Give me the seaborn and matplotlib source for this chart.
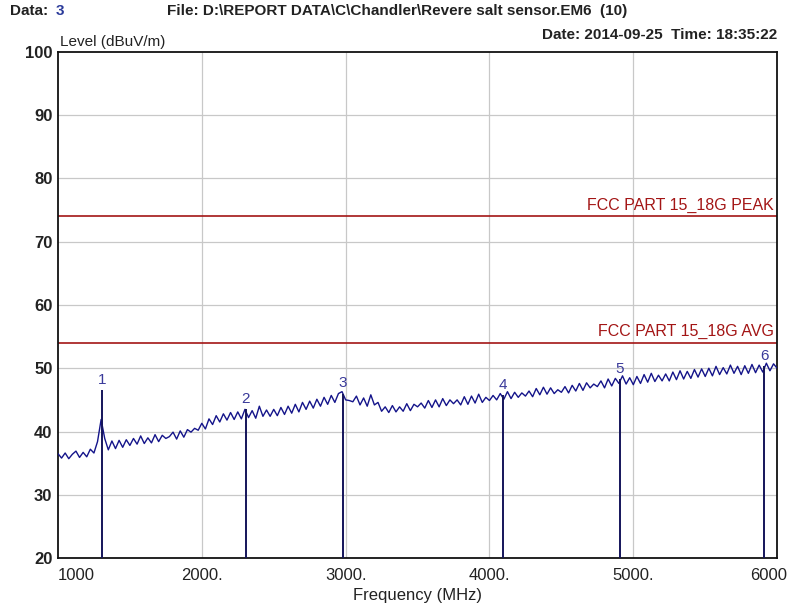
import numpy as np
import pandas as pd
import matplotlib
matplotlib.use("Agg")
import matplotlib.pyplot as plt
from matplotlib.transforms import ScaledTranslation
import seaborn as sns

# sweep 1000 - 6000 MHz, levels (dBuV/m)
freq_start, freq_stop = 1000, 6000
levels = [
    36.5, 35.8, 36.6, 35.7, 36.4, 36.9, 35.9, 36.7, 36.0, 37.2,
    36.6, 38.4, 41.9, 38.9, 37.1, 38.5, 37.3, 38.6, 37.5, 38.7,
    37.8, 38.9, 38.0, 39.3, 38.1, 39.0, 38.2, 39.5, 38.4, 39.4,
    38.9, 39.2, 39.9, 38.8, 40.1, 39.1, 40.3, 39.9, 40.5, 40.2,
    41.3, 40.4, 42.0, 41.1, 42.5, 41.5, 42.8, 41.8, 43.0, 41.9,
    43.1, 42.0, 43.5, 42.2, 43.3, 42.1, 44.0, 42.4, 43.4, 42.4,
    43.5, 42.5, 43.8, 42.7, 44.0, 42.9, 44.3, 43.1, 44.6, 43.5,
    44.8, 43.7, 45.1, 44.0, 45.4, 44.3, 45.7, 44.6, 46.0, 46.3,
    45.0, 44.9, 44.7, 45.6, 44.2, 45.3, 44.0, 45.8, 44.2, 44.6,
    43.2, 43.9, 43.0, 44.1, 43.1, 43.9, 43.2, 44.4, 43.3, 44.3,
    43.9, 44.5, 43.7, 44.9, 43.8, 45.0, 43.9, 45.2, 44.1, 45.0,
    44.4, 45.0, 44.2, 45.5, 44.3, 45.6, 44.5, 45.9, 44.6, 45.4,
    44.9, 45.7, 45.0, 46.0, 45.1, 46.3, 45.2, 46.2, 45.4, 46.1,
    45.6, 46.4, 45.5, 46.8, 45.8, 47.0, 45.9, 46.9, 46.0, 46.6,
    46.2, 47.1, 46.1, 47.3, 46.4, 47.6, 46.5, 47.7, 46.9, 47.5,
    47.1, 48.0, 46.9, 48.3, 47.2, 48.4, 47.6, 48.8, 47.5, 48.5,
    47.4, 48.7, 47.6, 49.0, 47.8, 49.2, 47.9, 48.9, 48.0, 49.1,
    48.0, 49.4, 48.2, 49.6, 48.3, 49.5, 48.4, 49.8, 48.6, 49.9,
    48.7, 50.0, 48.8, 50.3, 49.0, 50.1, 49.1, 50.5, 49.2, 50.3,
    49.0, 50.4, 49.2, 50.6, 49.3, 50.5, 49.4, 50.8, 49.6, 50.7,
    50.0,
]
freqs = np.linspace(freq_start, freq_stop, len(levels))

# markers
marker_ids = ["1", "2", "3", "4", "5", "6"]
marker_freqs = [1306, 2307, 2982, 4095, 4908, 5910]
marker_levels = [46.5, 43.5, 46.0, 45.8, 48.3, 50.3]

# limit lines
limit_names = ["FCC PART 15_18G PEAK", "FCC PART 15_18G AVG"]
limit_values = [74, 54]

x_ticks = [1000, 2000, 3000, 4000, 5000, 6000]
x_ticklabels = ["1000", "2000.", "3000.", "4000.", "5000.", "6000"]
y_ticks = [20, 30, 40, 50, 60, 70, 80, 90, 100]

df = pd.DataFrame({"freq": freqs, "level": levels})

sns.set_style("white")
plt.rcParams["font.family"] = ["Liberation Sans", "DejaVu Sans"]

fig = plt.figure(figsize=(7.93, 6.06), dpi=100)
ax = fig.add_axes([0.0731, 0.0792, 0.9069, 0.835])

trace_col = "#14148a"
limit_col = "#a31515"
text_col = "#222222"

# grid
for xv in x_ticks[1:-1]:
    ax.axvline(xv, color="#c8c8c8", lw=0.9, zorder=0)
for yv in y_ticks[1:-1]:
    ax.axhline(yv, color="#c8c8c8", lw=0.9, zorder=0)

sns.lineplot(data=df, x="freq", y="level", ax=ax, color=trace_col, lw=1.0, zorder=3)

for name, val in zip(limit_names, limit_values):
    ax.axhline(val, color=limit_col, lw=1.2, zorder=2)
    ax.text(5975, val + 0.6, name, color=limit_col, ha="right", va="bottom", fontsize=11.5)

ax.vlines(marker_freqs, 20, marker_levels, color="#14145a", lw=1.4, zorder=4)
for mid, mf, ml in zip(marker_ids, marker_freqs, marker_levels):
    ax.text(mf, ml + 0.5, mid, color="#3a3a9a", ha="center", va="bottom", fontsize=11)

ax.set_xlim(freq_start, freq_stop)
ax.set_ylim(20, 100)
ax.set_xticks(x_ticks)
ax.set_xticklabels(x_ticklabels, fontsize=12)
ax.set_yticks(y_ticks)
ax.set_yticklabels([str(v) for v in y_ticks], fontweight="bold", fontsize=12)
ax.tick_params(axis="y", length=0, colors=text_col, pad=4)
ax.tick_params(axis="x", length=0, colors=text_col, pad=7)
ax.get_xticklabels()[0].set_ha("left")
last = ax.get_xticklabels()[-1]
last.set_ha("right")
last.set_transform(last.get_transform() + ScaledTranslation(0.1, 0, fig.dpi_scale_trans))
ax.set_xlabel("Frequency (MHz)", fontsize=12, color=text_col, labelpad=4)
ax.set_ylabel("")
for sp in ax.spines.values():
    sp.set_color("#111111")
    sp.set_linewidth(1.3)

# header texts
fig.text(0.013, 0.982, "Data: ", fontsize=11, fontweight="bold", color=text_col, va="center")
fig.text(0.07, 0.982, "3", fontsize=11, fontweight="bold", color="#2a3a9a", va="center")
fig.text(0.21, 0.982, "File: D:\\REPORT DATA\\C\\Chandler\\Revere salt sensor.EM6  (10)",
         fontsize=11, fontweight="bold", color=text_col, va="center")
fig.text(0.98, 0.943, "Date: 2014-09-25  Time: 18:35:22", fontsize=11, fontweight="bold",
         color=text_col, ha="right", va="center")
fig.text(0.076, 0.93, "Level (dBuV/m)", fontsize=11, color=text_col, va="center")

fig.savefig("out.png", dpi=100)
